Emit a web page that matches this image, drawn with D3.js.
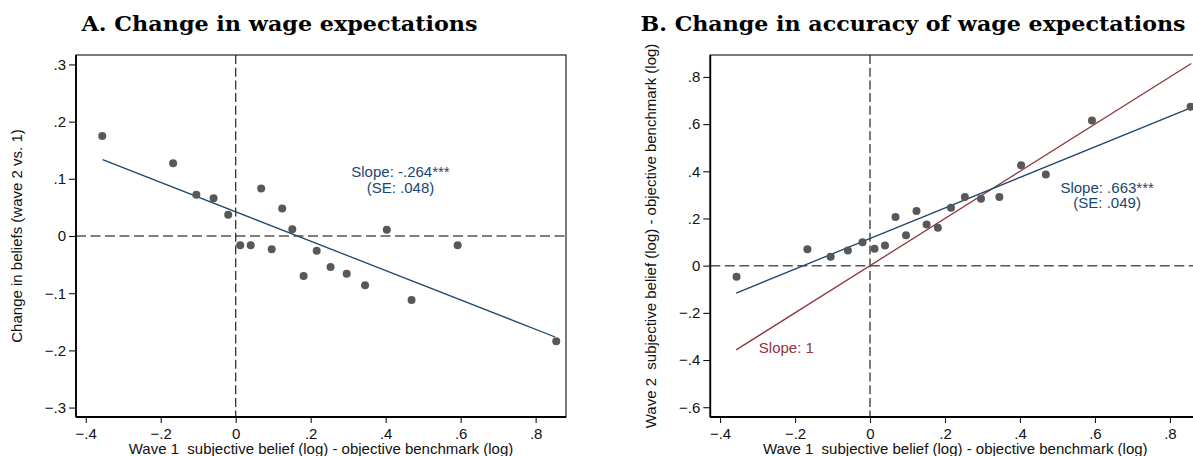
<!DOCTYPE html>
<html>
<head>
<meta charset="utf-8">
<script src="https://cdn.jsdelivr.net/npm/d3@7/dist/d3.min.js"></script>
<style>
  html, body { margin: 0; padding: 0; background: #fff; }
  svg { display: block; }
  text { font-family: "Liberation Sans", Arial, Helvetica, sans-serif; white-space: pre; }
</style>
</head>
<body>
<svg id="chart" width="1193" height="456"></svg>
<script>
// ---------------- DATA ----------------
// Wave 1 bins: subjective belief (log) - objective benchmark (log)
const wave1Gap = [-0.356, -0.167, -0.105, -0.059, -0.020, 0.012, 0.040, 0.068, 0.096, 0.124,
                  0.151, 0.181, 0.216, 0.253, 0.296, 0.345, 0.403, 0.469, 0.592, 0.855];
// Panel A: change in beliefs (wave 2 vs. 1)
const changeInBeliefs = [0.175, 0.127, 0.072, 0.066, 0.037, -0.016, -0.016, 0.083, -0.023, 0.048,
                         0.012, -0.070, -0.026, -0.054, -0.066, -0.086, 0.011, -0.112, -0.016, -0.184];
// Panel B: wave 2 subjective belief (log) - objective benchmark (log)
const wave2Gap = [-0.047, 0.070, 0.038, 0.064, 0.099, 0.072, 0.086, 0.206, 0.129, 0.232,
                  0.174, 0.161, 0.245, 0.291, 0.284, 0.291, 0.426, 0.386, 0.615, 0.674];
// Fitted lines (endpoints)
const fitA_x = [-0.355, 0.852], fitA_y = [0.1336, -0.1766];
const fitB_x = [-0.357, 0.857], fitB_y = [-0.116, 0.670];
const slope1_x = [-0.357, 0.857], slope1_y = [-0.357, 0.857];
// Tick values
const xTicks = [-0.4, -0.2, 0, 0.2, 0.4, 0.6, 0.8];
const yTicksA = [-0.3, -0.2, -0.1, 0, 0.1, 0.2, 0.3];
const yTicksB = [-0.6, -0.4, -0.2, 0, 0.2, 0.4, 0.6, 0.8];
// Texts
const titleA = "A. Change in wage expectations";
const titleB = "B. Change in accuracy of wage expectations";
const xTitle = "Wave 1  subjective belief (log) - objective benchmark (log)";
const yTitleA = "Change in beliefs (wave 2 vs. 1)";
const yTitleB = "Wave 2  subjective belief (log) - objective benchmark (log)";
const annA = ["Slope: -.264***", "(SE: .048)"];
const annB = ["Slope: .663***", "(SE: .049)"];
const annSlope1 = "Slope: 1";

// ---------------- STYLE ----------------
const BLUE = "#1a476f", RED = "#90353b", DOT = "#585858", INK = "#111";
const svg = d3.select("#chart");

const fmt = v => {
  if (Math.abs(v) < 1e-9) return "0";
  return d3.format(".1f")(v).replace("0.", ".");
};

function panel(cfg) {
  const x = d3.scaleLinear().domain([-0.426, 0.881]).range([cfg.left, cfg.left + 490]);
  const y = d3.scaleLinear().domain(cfg.yDomain).range([417, 55]);
  const g = svg.append("g");

  const clipId = "clip" + cfg.id;
  svg.append("defs").append("clipPath").attr("id", clipId)
    .append("rect").attr("x", x.range()[0]).attr("y", 55).attr("width", 490).attr("height", 362);

  // box
  g.append("rect").attr("x", x.range()[0]).attr("y", 55).attr("width", 490).attr("height", 362)
    .attr("fill", "none").attr("stroke", "#222").attr("stroke-width", 1.2);

  // reference lines
  g.append("line").attr("x1", x.range()[0]).attr("x2", x.range()[1])
    .attr("y1", y(0)).attr("y2", y(0))
    .attr("stroke", "#555").attr("stroke-width", 1.5).attr("stroke-dasharray", "10,4.5");
  g.append("line").attr("x1", x(0)).attr("x2", x(0)).attr("y1", 55).attr("y2", 417)
    .attr("stroke", "#222").attr("stroke-width", 1.2).attr("stroke-dasharray", "9,3.7");

  const plot = g.append("g").attr("clip-path", `url(#${clipId})`);
  cfg.lines.forEach(L => {
    plot.append("line")
      .attr("x1", x(L.x[0])).attr("y1", y(L.y[0]))
      .attr("x2", x(L.x[1])).attr("y2", y(L.y[1]))
      .attr("stroke", L.color).attr("stroke-width", 1.3);
  });
  plot.selectAll("circle.pt").data(cfg.xs.map((v, i) => [v, cfg.ys[i]])).enter()
    .append("circle").attr("class", "pt")
    .attr("cx", d => x(d[0])).attr("cy", d => y(d[1])).attr("r", 4)
    .attr("fill", DOT);

  // axes
  const ax = g.append("g").attr("transform", "translate(0,417)")
    .call(d3.axisBottom(x).tickValues(xTicks).tickFormat(fmt).tickSize(6).tickPadding(5));
  const ay = g.append("g").attr("transform", `translate(${x.range()[0]},0)`)
    .call(d3.axisLeft(y).tickValues(cfg.yTicks).tickFormat(fmt).tickSize(7).tickPadding(3));
  [ax, ay].forEach(a => {
    a.select(".domain").attr("stroke", "#000").attr("stroke-width", 1.8);
    a.selectAll(".tick line").attr("stroke", "#111").attr("stroke-width", 1.1);
    a.selectAll(".tick text").attr("fill", INK).style("font-size", "15px")
      .style("font-family", '"Liberation Sans", Arial, sans-serif');
  });
  ax.select(".domain").attr("d", `M${x.range()[0]},0H${x.range()[1]}`);
  ay.select(".domain").attr("d", `M0,55V417`);

  // axis titles
  g.append("text").attr("x", (x.range()[0] + x.range()[1]) / 2).attr("y", 453.5)
    .attr("text-anchor", "middle").attr("fill", INK).style("font-size", "15px").text(xTitle);
  g.append("text").attr("transform", `translate(${cfg.yTitleX},236) rotate(-90)`)
    .attr("text-anchor", "middle").attr("fill", INK).style("font-size", "15px").text(cfg.yTitle);

  // title
  g.append("text").attr("x", cfg.titleX).attr("y", 30.7)
    .attr("text-anchor", "middle").attr("fill", "#000")
    .attr("textLength", cfg.titleW).attr("lengthAdjust", "spacingAndGlyphs")
    .style("font-family", '"DejaVu Serif", "Liberation Serif", serif')
    .style("font-weight", "bold").style("font-size", "19.5px").text(cfg.title);

  // annotations
  cfg.anns.forEach(a => {
    a.lines.forEach((t, i) => {
      g.append("text").attr("x", x(a.x)).attr("y", y(a.y) + i * a.lh)
        .attr("text-anchor", a.anchor).attr("fill", a.color)
        .style("font-size", "15px").text(t);
    });
  });
}

panel({
  id: "A", left: 76, yDomain: [-0.3165, 0.3165], yTicks: yTicksA,
  xs: wave1Gap, ys: changeInBeliefs,
  lines: [{ x: fitA_x, y: fitA_y, color: BLUE }],
  yTitle: yTitleA, yTitleX: 22,
  title: titleA, titleX: 279.6, titleW: 396,
  anns: [{ x: 0.4395, y: 0.103, lines: annA, lh: 15.6, anchor: "middle", color: BLUE }]
});

panel({
  id: "B", left: 710.3, yDomain: [-0.6415, 0.893], yTicks: yTicksB,
  xs: wave1Gap, ys: wave2Gap,
  lines: [{ x: slope1_x, y: slope1_y, color: RED }, { x: fitB_x, y: fitB_y, color: BLUE }],
  yTitle: yTitleB, yTitleX: 656,
  title: titleB, titleX: 913, titleW: 545,
  anns: [
    { x: 0.6325, y: 0.3095, lines: annB, lh: 15.6, anchor: "middle", color: BLUE },
    { x: -0.2965, y: -0.3714, lines: [annSlope1], lh: 15.6, anchor: "start", color: RED }
  ]
});
</script>
</body>
</html>
